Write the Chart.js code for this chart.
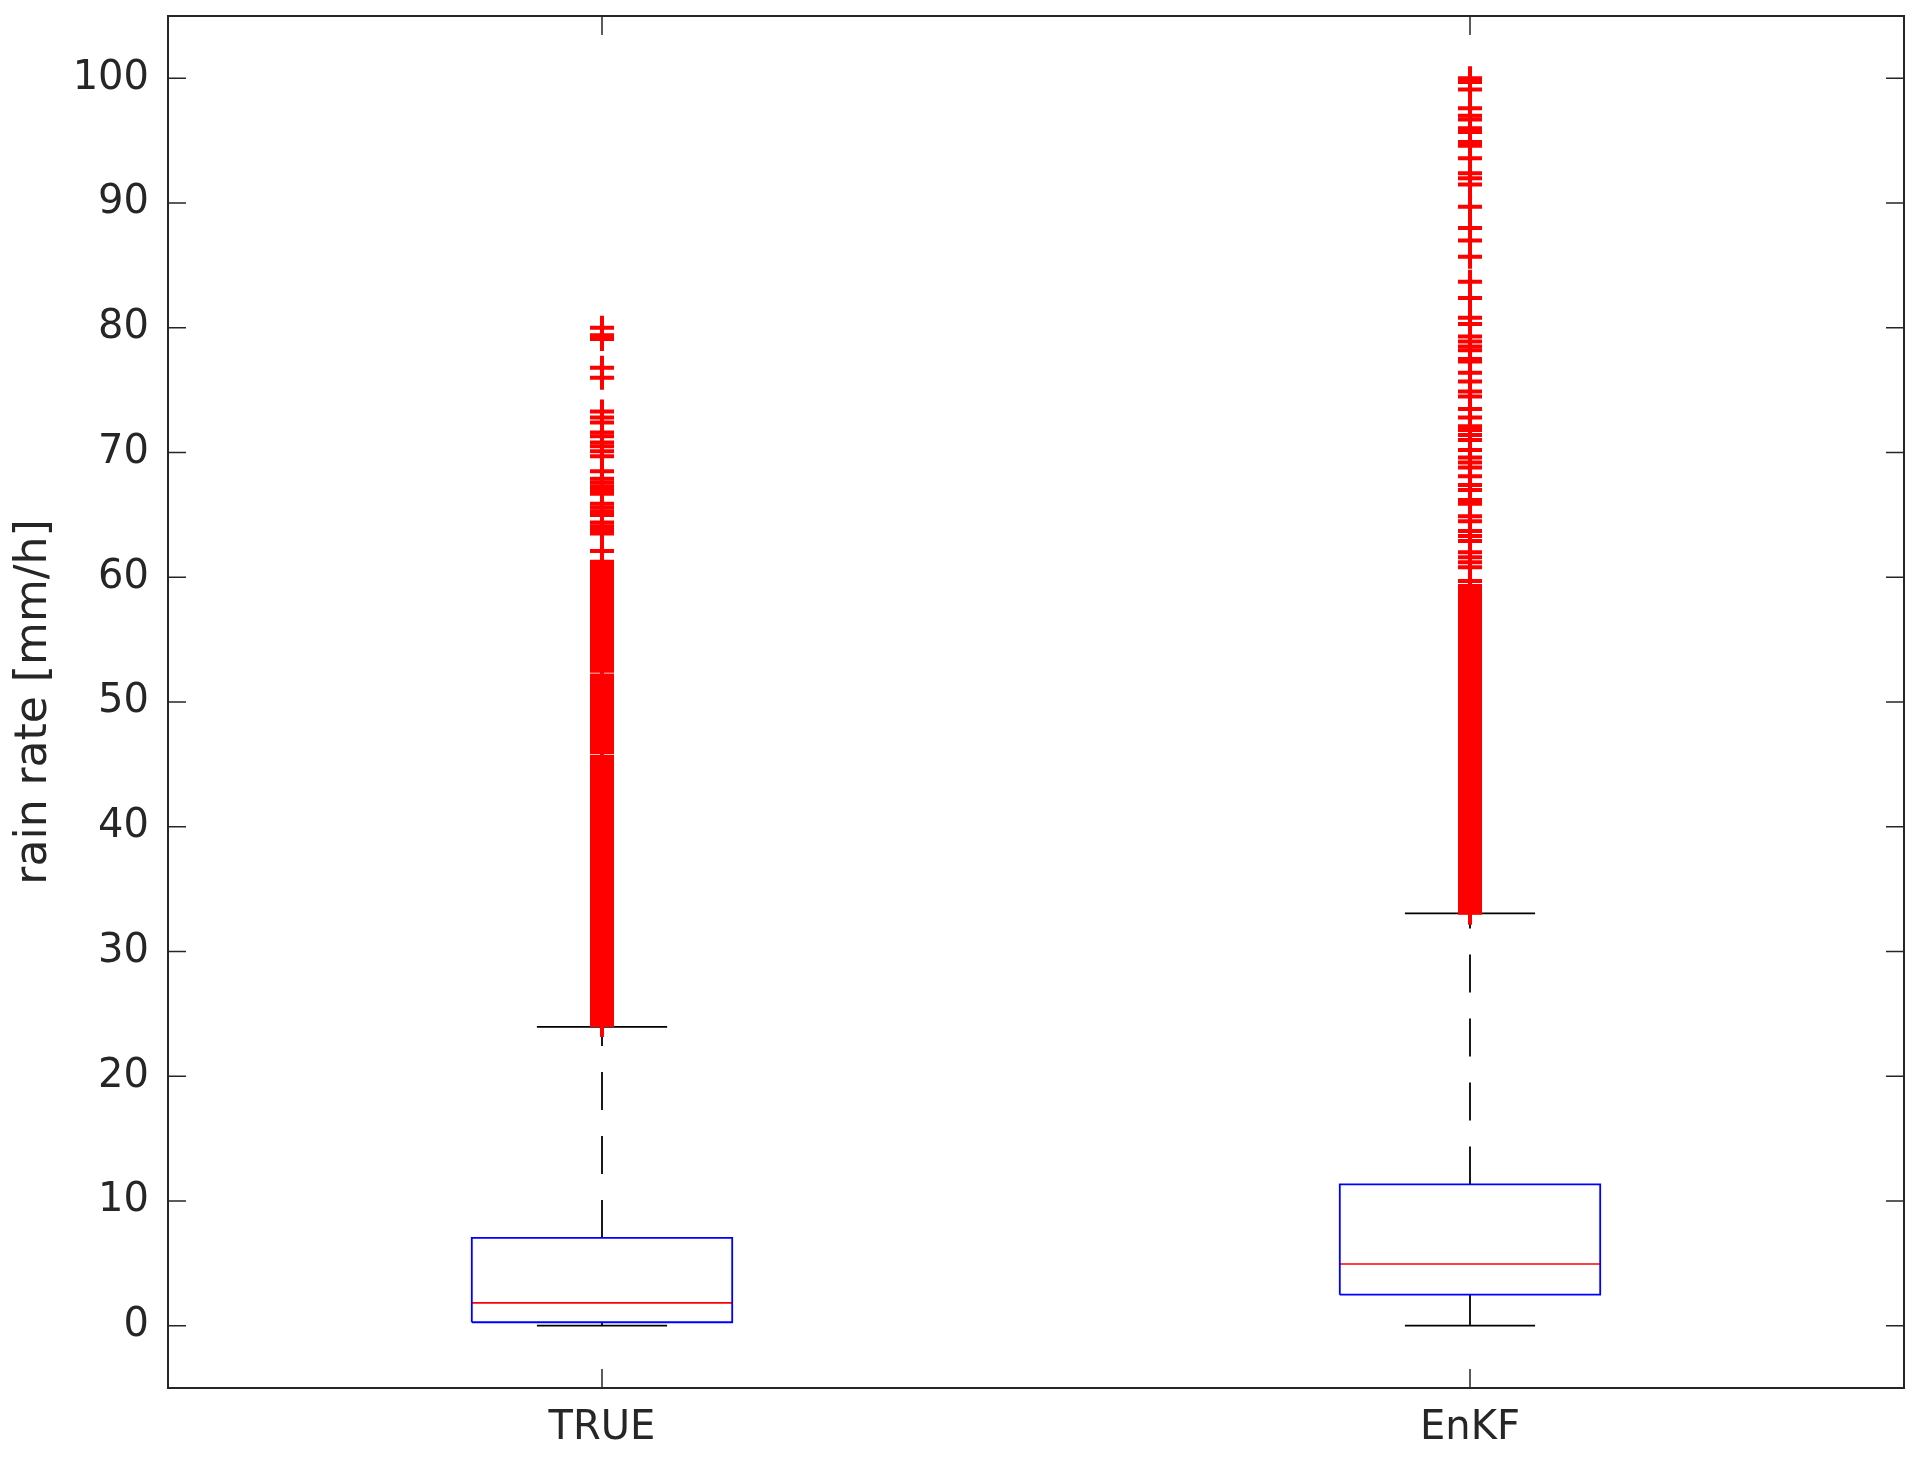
<!DOCTYPE html>
<html>
<head>
<meta charset="utf-8">
<script src="https://cdn.jsdelivr.net/npm/chart.js@4.4.1/dist/chart.umd.min.js"></script>
<style>
  html, body { margin: 0; padding: 0; background: #fff; }
  canvas { display: block; }
</style>
</head>
<body>
<canvas id="rain-box" width="1920" height="1459"></canvas>
<script>
// Box plot summary
const categories = ['TRUE', 'EnKF'];
const lowerWhisker = [0, 0];
const q1 = [0.27, 2.48];
const medians = [1.82, 4.94];
const q3 = [7.03, 11.32];
const upperWhisker = [23.95, 33.05];
const yTicks = [0, 10, 20, 30, 40, 50, 60, 70, 80, 90, 100];

// Outliers (red +), dense stretch then the scattered ones on top
const trueOutliers = [
  24.1, 24.25, 24.5, 24.75, 25, 25.25, 25.5, 25.75, 26, 26.25, 26.5, 26.75,
  27, 27.25, 27.5, 27.75, 28, 28.25, 28.5, 28.75, 29, 29.25, 29.5, 29.75,
  30, 30.25, 30.5, 30.75, 31, 31.25, 31.5, 31.75, 32, 32.25, 32.5, 32.75,
  33, 33.25, 33.5, 33.75, 34, 34.25, 34.5, 34.75, 35, 35.25, 35.5, 35.75,
  36, 36.25, 36.5, 36.75, 37, 37.25, 37.5, 37.75, 38, 38.25, 38.5, 38.75,
  39, 39.25, 39.5, 39.75, 40, 40.25, 40.5, 40.75, 41, 41.25, 41.5, 41.75,
  42, 42.25, 42.5, 42.75, 43, 43.25, 43.5, 43.75, 44, 44.25, 44.5, 44.75,
  45, 45.25, 45.5, 45.62, 46, 46.25, 46.5, 46.75, 47, 47.25, 47.5, 47.75,
  48, 48.25, 48.5, 48.75, 49, 49.25, 49.5, 49.75, 50, 50.25, 50.5, 50.75,
  51, 51.25, 51.5, 51.75, 52, 52.12, 52.5, 52.75, 53, 53.25, 53.5, 53.75,
  54, 54.25, 54.5, 54.75, 55, 55.25, 55.5, 55.75, 56, 56.25, 56.5, 56.75,
  57, 57.25, 57.5, 57.75, 58, 58.25, 58.5, 58.75, 59, 59.25, 59.5, 59.75,
  60, 60.25, 60.5, 60.75, 61, 61.25,
  62.1, 63.5, 63.8, 64.1, 64.4, 65.0, 65.3, 65.6, 65.9, 66.7, 67.0, 67.3,
  67.6, 67.9, 68.5, 69.7, 70.1, 70.5, 70.8, 71.3, 71.6, 72.4, 72.8, 73.3,
  76.0, 76.8, 79.1, 79.4, 80.0
];

const enkfOutliers = [
  33.1, 33.25, 33.5, 33.75, 34, 34.25, 34.5, 34.75, 35, 35.25, 35.5, 35.75,
  36, 36.25, 36.5, 36.75, 37, 37.25, 37.5, 37.75, 38, 38.25, 38.5, 38.75,
  39, 39.25, 39.5, 39.75, 40, 40.25, 40.5, 40.75, 41, 41.25, 41.5, 41.75,
  42, 42.25, 42.5, 42.75, 43, 43.25, 43.5, 43.75, 44, 44.25, 44.5, 44.75,
  45, 45.25, 45.5, 45.75, 46, 46.25, 46.5, 46.75, 47, 47.25, 47.5, 47.75,
  48, 48.25, 48.5, 48.75, 49, 49.25, 49.5, 49.75, 50, 50.25, 50.5, 50.75,
  51, 51.25, 51.5, 51.75, 52, 52.25, 52.5, 52.75, 53, 53.25, 53.5, 53.75,
  54, 54.25, 54.5, 54.75, 55, 55.25, 55.5, 55.75, 56, 56.25, 56.5, 56.75,
  57, 57.25, 57.5, 57.75, 58, 58.25, 58.5, 58.75, 59, 59.3, 59.7,
  60.8, 61.2, 61.6, 62.0, 62.9, 63.3, 63.7, 64.5, 64.9, 65.9, 66.2, 67.0,
  67.4, 68.1, 68.8, 69.2, 69.6, 70.2, 71.0, 71.4, 71.8, 72.1, 72.8, 73.5,
  74.5, 74.9, 75.7, 76.4, 77.3, 77.5, 78.2, 78.5, 78.9, 79.3, 80.3, 80.8,
  82.4, 83.7, 85.7, 87.0, 88.0, 89.7, 91.5, 92.0, 92.4, 93.6, 94.6, 94.9,
  95.7, 96.0, 96.7, 97.0, 97.6, 99.1, 99.7, 100.0
];
const outliers = [trueOutliers, enkfOutliers];

// Geometry in x units (categories sit at 1 and 2)
const BOX_HALF = 0.15;
const CAP_HALF = 0.075;
const AXIS_COLOR = '#262626';
const FONT = 'DejaVu Sans';

function lineSet(points, color, width, dash, order) {
  return {
    type: 'scatter',
    data: points,
    showLine: true,
    borderColor: color,
    borderWidth: width,
    borderDash: dash || [],
    pointRadius: 0,
    pointHoverRadius: 0,
    fill: false,
    order: order,
  };
}

const datasets = [];
categories.forEach((name, i) => {
  const c = i + 1;
  // outliers on top
  datasets.push({
    type: 'scatter',
    data: outliers[i].map((v) => ({ x: c, y: v })),
    pointStyle: 'cross',
    pointRadius: 12,
    pointHoverRadius: 12,
    borderColor: '#ff0000',
    backgroundColor: '#ff0000',
    pointBorderWidth: 4,
    showLine: false,
    order: 0,
  });
  // whiskers (dashed) and caps
  datasets.push(lineSet([{ x: c, y: q3[i] }, { x: c, y: upperWhisker[i] }], '#000', 1.8, [38, 26], 3));
  datasets.push(lineSet([{ x: c, y: q1[i] }, { x: c, y: lowerWhisker[i] }], '#000', 1.8, [38, 26], 3));
  datasets.push(lineSet([{ x: c - CAP_HALF, y: upperWhisker[i] }, { x: c + CAP_HALF, y: upperWhisker[i] }], '#000', 1.6, null, 2));
  datasets.push(lineSet([{ x: c - CAP_HALF, y: lowerWhisker[i] }, { x: c + CAP_HALF, y: lowerWhisker[i] }], '#000', 1.6, null, 2));
  // box
  datasets.push(lineSet([
    { x: c - BOX_HALF, y: q1[i] },
    { x: c + BOX_HALF, y: q1[i] },
    { x: c + BOX_HALF, y: q3[i] },
    { x: c - BOX_HALF, y: q3[i] },
    { x: c - BOX_HALF, y: q1[i] },
  ], '#0000ff', 1.8, null, 1));
  // median
  datasets.push(lineSet([{ x: c - BOX_HALF, y: medians[i] }, { x: c + BOX_HALF, y: medians[i] }], '#ff0000', 1.7, null, 1));
});

// MATLAB-like frame with inward ticks on every side
const framePlugin = {
  id: 'matlabFrame',
  afterDraw(chart) {
    const { ctx, chartArea: a, scales } = chart;
    ctx.save();
    ctx.strokeStyle = AXIS_COLOR;
    ctx.lineWidth = 1.5;
    ctx.beginPath();
    yTicks.forEach((v) => {
      const y = scales.y.getPixelForValue(v);
      ctx.moveTo(a.left, y); ctx.lineTo(a.left + 18, y);
      ctx.moveTo(a.right, y); ctx.lineTo(a.right - 18, y);
    });
    categories.forEach((n, i) => {
      const x = scales.x.getPixelForValue(i + 1);
      ctx.moveTo(x, a.bottom); ctx.lineTo(x, a.bottom - 19);
      ctx.moveTo(x, a.top); ctx.lineTo(x, a.top + 19);
    });
    ctx.stroke();
    ctx.lineWidth = 2;
    ctx.strokeRect(a.left, a.top, a.right - a.left, a.bottom - a.top);
    ctx.restore();
  },
};

new Chart(document.getElementById('rain-box'), {
  type: 'scatter',
  data: { datasets: datasets },
  options: {
    responsive: false,
    devicePixelRatio: 1,
    animation: false,
    layout: { padding: { top: 16, right: 16, left: 0, bottom: 0 } },
    plugins: {
      legend: { display: false },
      tooltip: { enabled: false },
    },
    scales: {
      x: {
        type: 'linear',
        min: 0.5,
        max: 2.5,
        afterFit: (s) => {
          s.height = 71;
          s.paddingLeft = 0;
          s.paddingRight = 0;
        },
        afterBuildTicks: (s) => { s.ticks = categories.map((n, i) => ({ value: i + 1 })); },
        grid: { display: false, drawTicks: false },
        border: { display: false },
        ticks: {
          padding: 17,
          color: AXIS_COLOR,
          font: { family: FONT, size: 40 },
          maxRotation: 0,
          callback: (v) => categories[v - 1],
        },
      },
      y: {
        type: 'linear',
        min: -5,
        max: 105,
        afterFit: (s) => {
          s.width = 168;
          s.paddingTop = 0;
          s.paddingBottom = 0;
        },
        afterBuildTicks: (s) => { s.ticks = yTicks.map((v) => ({ value: v })); },
        grid: { display: false, drawTicks: false },
        border: { display: false },
        ticks: {
          padding: 19,
          color: AXIS_COLOR,
          font: { family: FONT, size: 40 },
        },
        title: {
          display: true,
          text: 'rain rate [mm/h]',
          color: AXIS_COLOR,
          font: { family: FONT, size: 44 },
          padding: { top: 8, bottom: 0 },
        },
      },
    },
  },
  plugins: [framePlugin],
});
</script>
</body>
</html>
